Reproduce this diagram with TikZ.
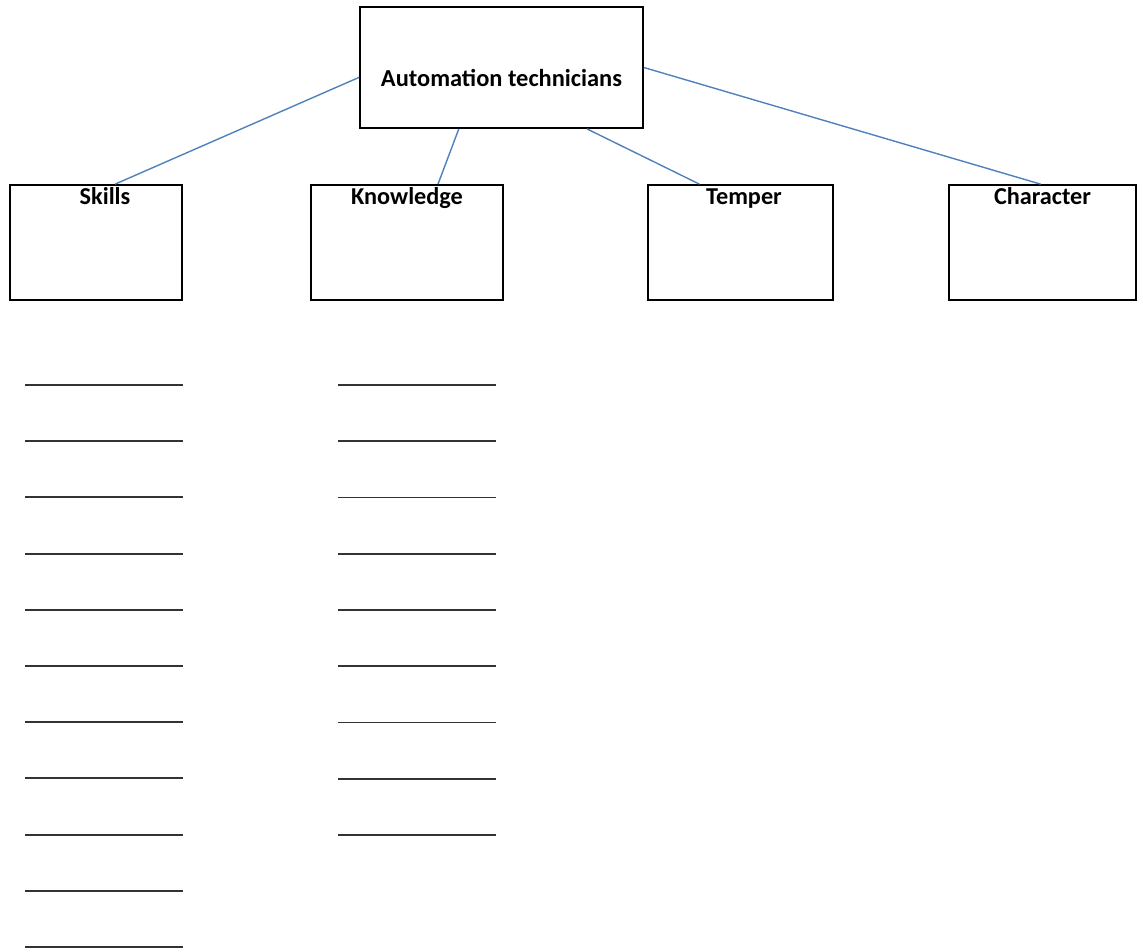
\documentclass[tikz,border=0pt]{standalone}
\usepackage{fontspec}
\setmainfont{Carlito}
\definecolor{linkblue}{RGB}{79, 129, 189}
\usetikzlibrary{calc}

\begin{document}
\begin{tikzpicture}[x=0.02cm, y=-0.02cm,
		topbox/.style={draw, line width=1pt, minimum width=5.66cm, minimum height=2.42cm, text height=22pt, text depth=0pt, font=\bfseries\fontsize{13.9}{16}\selectfont},
		subbox/.style={draw, line width=1pt, minimum height=2.3cm},
		lbl/.style={anchor=north, inner sep=1.5pt, text height=10pt, text depth=3pt, font=\bfseries\fontsize{13.8}{16}\selectfont},
		link/.style={linkblue, line width=0.8pt}]
		\useasboundingbox (0,0) rectangle (1143,951);
		\node[topbox] (auto) at (501.5,67.5) {Automation technicians};
		\node[subbox, minimum width=3.44cm, label={[lbl, xshift=0.18cm]north:Skills}] (skills) at (96,242.5) {};
		\node[subbox, minimum width=3.84cm, label={[lbl]north:Knowledge}] (know) at (407,242.5) {};
		\node[subbox, minimum width=3.7cm, label={[lbl, xshift=0.07cm]north:Temper}] (temper) at (740.5,242.5) {};
		\node[subbox, minimum width=3.74cm, label={[lbl]north:Character}] (char) at (1042.5,242.5) {};
		\draw[link] ($(auto.north west)!0.58!(auto.south west)$) -- ($(skills.north west)!0.61!(skills.north east)$);
		\draw[link] ($(auto.south west)!0.35!(auto.south east)$) -- ($(know.north west)!0.66!(know.north east)$);
		\draw[link] ($(auto.south west)!0.8!(auto.south east)$) -- ($(temper.north west)!0.28!(temper.north east)$);
		\draw[link] (auto.east) -- ($(char.north west)!0.49!(char.north east)$);
		% blank lines to fill in
		\foreach \i in {0,...,10}
			\draw[line width=1.1pt, black!80] (25, 385+56.2*\i) -- (183, 385+56.2*\i);
		\foreach \i in {0,...,8}
			\draw[line width=1.1pt, black!80] (338, 385+56.25*\i) -- (496, 385+56.25*\i);
	\end{tikzpicture}
\end{document}
